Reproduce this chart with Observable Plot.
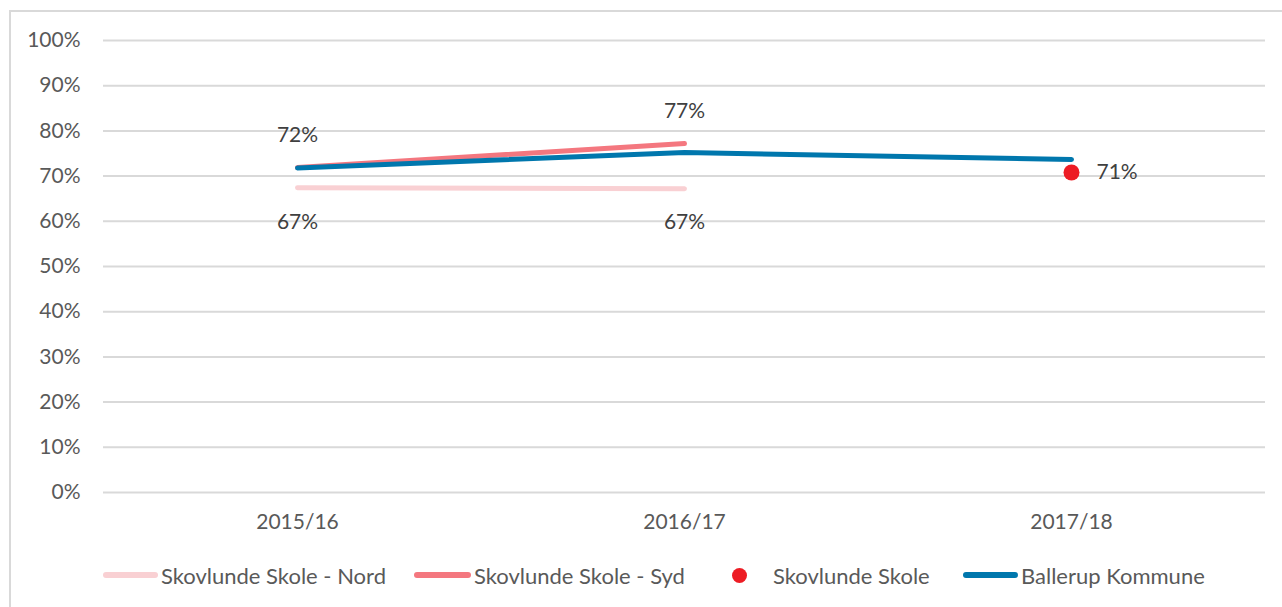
<!DOCTYPE html>
<html>
<head>
<meta charset="utf-8">
<script src="https://cdn.jsdelivr.net/npm/d3@7"></script>
<script src="https://cdn.jsdelivr.net/npm/@observablehq/plot@0.6"></script>
<style>
  html, body { margin: 0; padding: 0; background: #fff; }
  body { width: 1282px; height: 607px; overflow: hidden; position: relative; font-family: Lato, "Open Sans", sans-serif; }
  #frame { position: absolute; left: 9px; top: 10px; width: 1400px; height: 700px; border-left: 2px solid #d9d9d9; border-top: 2px solid #d9d9d9; }
  #chart { position: absolute; left: 0; top: 0; }
  #legend { position: absolute; left: 0; top: 560px; width: 1282px; height: 30px; font-size: 22px; color: #595959; }
  .item { position: absolute; top: 0; height: 30px; display: flex; align-items: center; white-space: nowrap; }
  .swatch { height: 6px; border-radius: 3px; margin-right: 3px; }
  .dotsw { width: 15px; height: 15px; border-radius: 50%; margin-left: -7px; margin-right: 26px; }
</style>
</head>
<body>
<div id="frame"></div>
<div id="chart"></div>
<div id="legend"></div>
<script>
const years = ["2015/16", "2016/17", "2017/18"];
const nord = [67.4, 67.2, null];
const syd = [71.9, 77.2, null];
const skole = [null, null, 70.8];
const ballerup = [71.8, 75.2, 73.7];
const yTicks = [0, 10, 20, 30, 40, 50, 60, 70, 80, 90, 100];
const seriesNames = ["Skovlunde Skole - Nord", "Skovlunde Skole - Syd", "Skovlunde Skole", "Ballerup Kommune"];
const seriesColors = ["#f9d0d3", "#f4777f", "#ed1c24", "#0077ad"];

const rows = vals => years.map((year, i) => ({year, value: vals[i]})).filter(d => d.value != null);
const fmt = v => Math.round(v) + "%";

const plot = Plot.plot({
  width: 1282,
  height: 530,
  marginLeft: 103,
  marginRight: 17,
  marginTop: 40,
  marginBottom: 38,
  style: {background: "transparent", fontFamily: "Lato, 'Open Sans', sans-serif", fontSize: "21px", color: "#595959", overflow: "visible"},
  x: {type: "point", domain: years, padding: 0.5, tickSize: 0, tickPadding: 22, label: null},
  y: {domain: [0, 100], ticks: yTicks, tickFormat: d => d + "%", tickSize: 0, tickPadding: 23, label: null},
  marks: [
    Plot.ruleY(yTicks, {stroke: "#d9d9d9", strokeWidth: 2}),
    Plot.line(rows(nord), {x: "year", y: "value", stroke: seriesColors[0], strokeWidth: 5, strokeLinecap: "round"}),
    Plot.line(rows(syd), {x: "year", y: "value", stroke: seriesColors[1], strokeWidth: 5, strokeLinecap: "round"}),
    Plot.line(rows(ballerup), {x: "year", y: "value", stroke: seriesColors[3], strokeWidth: 5, strokeLinecap: "round"}),
    Plot.dot(rows(skole), {x: "year", y: "value", r: 8, fill: seriesColors[2], stroke: "none"}),
    Plot.text(rows(syd), {x: "year", y: "value", text: d => fmt(d.value), dy: -32, fill: "#404040", fontSize: 21}),
    Plot.text(rows(nord), {x: "year", y: "value", text: d => fmt(d.value), dy: 34, fill: "#404040", fontSize: 21}),
    Plot.text(rows(skole), {x: "year", y: "value", text: d => fmt(d.value), dx: 25, textAnchor: "start", fill: "#404040", fontSize: 21})
  ]
});
document.getElementById("chart").appendChild(plot);

const legendLefts = [103, 414, 739, 963];
const swatchWidths = [55, 57, 0, 55];
const legend = document.getElementById("legend");
seriesNames.forEach((name, i) => {
  const item = document.createElement("div");
  item.className = "item";
  item.style.left = legendLefts[i] + "px";
  const sw = document.createElement("div");
  if (i === 2) { sw.className = "dotsw"; } else { sw.className = "swatch"; sw.style.width = swatchWidths[i] + "px"; }
  sw.style.background = seriesColors[i];
  const label = document.createElement("span");
  label.textContent = name;
  item.appendChild(sw);
  item.appendChild(label);
  legend.appendChild(item);
});
</script>
</body>
</html>
